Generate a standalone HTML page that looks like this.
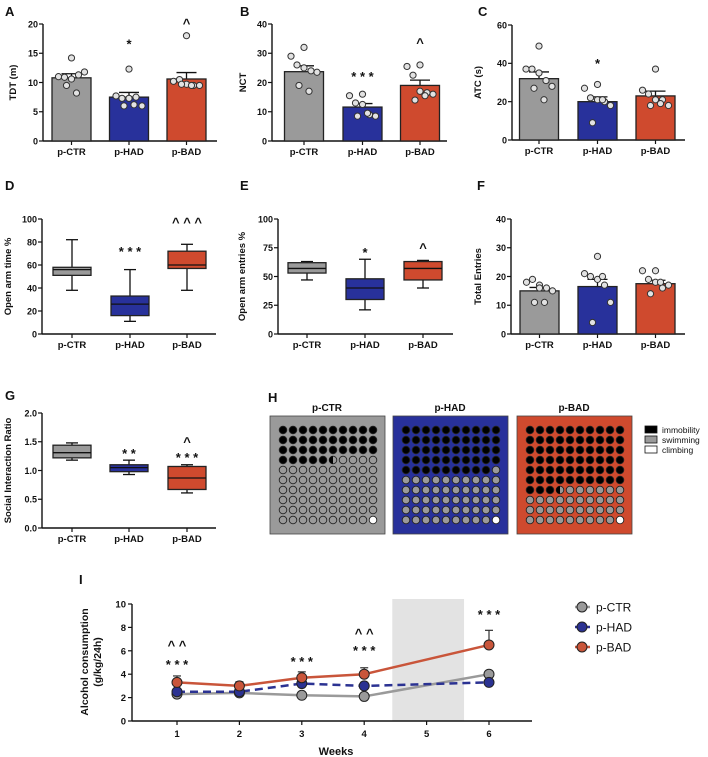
<!DOCTYPE html>
<html><head><meta charset="utf-8">
<style>
html,body{margin:0;padding:0;background:#fff;}
svg{display:block;font-family:"Liberation Sans",Arial,sans-serif;}
</style></head>
<body>
<svg id="fig" width="708" height="757" viewBox="0 0 708 757" xmlns="http://www.w3.org/2000/svg"></svg>
<script>
// ---------- DATA ----------
const groups = ["p-CTR","p-HAD","p-BAD"];
// Panel A: TDT (m)
const aMeans = [10.8, 7.5, 10.6];
const aSems = [0.7, 0.8, 1.1];
const aPts = [[14.2,11,10.9,10.6,11.3,11.8,9.5,8.2],[12.3,7.7,7.3,7.3,7.5,6,6,6.2],[18,10.2,10.5,9.7,9.5,9.5,9.7,9.5]];
const aTicks = [0,5,10,15,20];
// Panel B: NCT
const bMeans = [23.7, 11.6, 19];
const bSems = [2, 1.2, 1.8];
const bPts = [[32,29,26,25,24,23.5,19,17],[16,15.5,13,12.5,9,8.5,8.5,9.5],[26,25.5,22.5,17,16.5,16,14,15.5]];
const bTicks = [0,10,20,30,40];
// Panel C: ATC (s)
const cMeans = [32, 20, 23];
const cSems = [3.5, 2.5, 2.5];
const cPts = [[49,37,37,35,31,28,27,21],[29,27,22,21,20,18,9,21],[37,26,24,21,21,18,18,19]];
const cTicks = [0,20,40,60];
// Panel F: Total entries
const fMeans = [15, 16.5, 17.5];
const fSems = [1.2, 2.5, 1.2];
const fPts = [[17,18,19,16,16,15,11,11],[27,21,20,19,17,11,4,20],[22,22,19,18,16,17,14,18]];
const fTicks = [0,10,20,30,40];
// Box plots: [min, q1, median, q3, max]
const dBoxes = [[38,51,56,58,82],[11,16,26,33,56],[38,57,60,72,78]];
const dTicks = [0,20,40,60,80,100];
const eBoxes = [[47,53,57,62,63],[21,30,40,48,65],[40,47,57,63,64]];
const eTicks = [0,25,50,75,100];
const gBoxes = [[1.18,1.22,1.31,1.44,1.48],[0.93,0.98,1.05,1.10,1.18],[0.61,0.67,0.87,1.07,1.10]];
const gTicks = [0,0.5,1.0,1.5,2.0];
const gTickLabels = ["0.0","0.5","1.0","1.5","2.0"];
// Panel H: forced swim (% of 100)
const hImmobility = [35.5, 49.3, 63.5];
const hClimbing = [1, 1, 1];
// Panel I: alcohol consumption
const weeks = [1,2,3,4,5,6];
const iCTR = [2.3, 2.4, 2.2, 2.1, null, 4.0];
const iHAD = [2.5, 2.5, 3.2, 3.0, null, 3.3];
const iBAD = [3.3, 3.0, 3.7, 4.0, null, 6.5];
const iBADerr = [0.55, 0.35, 0.5, 0.55, null, 1.25];
const iCTRerr = [0.2, 0.2, 0.25, 0.25, null, 0.2];
const iHADerr = [0.25, 0.25, 0.3, 0.3, null, 0.2];
const iTicks = [0,2,4,6,8,10];

// ---------- HELPERS ----------
const NS = "http://www.w3.org/2000/svg";
const svg = document.getElementById("fig");
const COL = ["#9a9a9a","#28319b","#cf4a2e"];
function mk(tag, attrs, name, parent, txt){
  const el = document.createElementNS(NS, tag);
  for (const k in attrs) el.setAttribute(k, attrs[k]);
  
  
  if (txt !== undefined) el.textContent = txt;
  (parent || svg).appendChild(el);
  return el;
}
function letter(t, x, y){ mk("text",{x:x,y:y,"font-size":13,"font-weight":"bold",fill:"#111"},"panel-label-"+t.toLowerCase(),svg,t); }

function axes(g, P, ticks, labels, name){
  const y = v => P.y0 - (v - 0)/(P.max)*(P.y0 - P.yTop);
  mk("line",{x1:P.ax,y1:P.yTop,x2:P.ax,y2:P.y0,stroke:"#111","stroke-width":1.4},name+"-y-axis",g);
  mk("line",{x1:P.ax,y1:P.y0,x2:P.xEnd,y2:P.y0,stroke:"#111","stroke-width":1.4},name+"-x-axis",g);
  ticks.forEach((t,i)=>{
    mk("line",{x1:P.ax-4,y1:y(t),x2:P.ax,y2:y(t),stroke:"#111","stroke-width":1.2},name+"-y-tick",g);
    mk("text",{x:P.ax-5,y:y(t)+3.3,"font-size":9,"font-weight":"bold","text-anchor":"end",fill:"#111"},name+"-y-tick-label",g,labels?labels[i]:String(t));
  });
  P.cx.forEach((c,i)=>{
    mk("line",{x1:c,y1:P.y0,x2:c,y2:P.y0+4,stroke:"#111","stroke-width":1.2},name+"-x-tick",g);
    mk("text",{x:c,y:P.y0+14,"font-size":9.5,"font-weight":"bold","text-anchor":"middle",fill:"#111"},name+"-x-tick-label",g,groups[i]);
  });
  const my=(P.y0+P.yTop)/2;
  mk("text",{x:P.tx,y:my,"font-size":9.5,"font-weight":"bold","text-anchor":"middle",fill:"#111",transform:`rotate(-90 ${P.tx} ${my})`},name+"-y-axis-title",g,P.title);
  return y;
}
const jit = [0,-13,-7,0,7,13,-5,5];
function barPanel(name, P, means, sems, pts, ticks){
  const g = mk("g",{},name+"-chart");
  const y = axes(g,P,ticks,null,name);
  const bw = 39;
  means.forEach((m,i)=>{
    const c=P.cx[i];
    mk("line",{x1:c,y1:y(m),x2:c,y2:y(m+sems[i]),stroke:"#111","stroke-width":1.3},name+"-error-bar",g);
    mk("line",{x1:c-10,y1:y(m+sems[i]),x2:c+10,y2:y(m+sems[i]),stroke:"#111","stroke-width":1.3},name+"-error-cap",g);
    mk("rect",{x:c-bw/2,y:y(m),width:bw,height:P.y0-y(m),fill:COL[i],stroke:"#222","stroke-width":1.3},name+"-bar-"+groups[i].toLowerCase(),g);
    pts[i].forEach((v,j)=>{
      mk("circle",{cx:c+jit[j],cy:y(v),r:3.1,fill:"#e2e2e2",stroke:"#333","stroke-width":1},name+"-data-point",g);
    });
  });
  P.stars.forEach(s=>mk("text",{x:P.cx[s.i],y:y(s.v),"font-size":13,"font-weight":"bold","text-anchor":"middle",fill:"#111"},name+"-significance",g,s.t));
}
function boxPanel(name, P, boxes, ticks, labels){
  const g = mk("g",{},name+"-chart");
  const y = axes(g,P,ticks,labels,name);
  const bw = 38;
  boxes.forEach((b,i)=>{
    const c=P.cx[i];
    mk("line",{x1:c,y1:y(b[0]),x2:c,y2:y(b[4]),stroke:"#111","stroke-width":1.3},name+"-whisker",g);
    mk("line",{x1:c-6,y1:y(b[0]),x2:c+6,y2:y(b[0]),stroke:"#111","stroke-width":1.3},name+"-whisker-cap-low",g);
    mk("line",{x1:c-6,y1:y(b[4]),x2:c+6,y2:y(b[4]),stroke:"#111","stroke-width":1.3},name+"-whisker-cap-high",g);
    mk("rect",{x:c-bw/2,y:y(b[3]),width:bw,height:y(b[1])-y(b[3]),fill:COL[i],stroke:"#222","stroke-width":1.3},name+"-box-"+groups[i].toLowerCase(),g);
    mk("line",{x1:c-bw/2,y1:y(b[2]),x2:c+bw/2,y2:y(b[2]),stroke:"#111","stroke-width":1.3},name+"-median",g);
  });
  P.stars.forEach(s=>mk("text",{x:P.cx[s.i],y:y(s.v),"font-size":13,"font-weight":"bold","text-anchor":"middle",fill:"#111"},name+"-significance",g,s.t));
}

// ---------- ROW 1 ----------
letter("A",5,16); letter("B",240,16); letter("C",478,16);
barPanel("panel-a",{ax:43,yTop:24,y0:141,xEnd:217,max:20,cx:[71.5,129,186.5],tx:16,title:"TDT (m)",
  stars:[{i:1,v:15.8,t:"*"},{i:2,v:19.3,t:"^"}]}, aMeans,aSems,aPts,aTicks);
barPanel("panel-b",{ax:272,yTop:24,y0:141,xEnd:447,max:40,cx:[304,362.5,420],tx:246,title:"NCT",
  stars:[{i:1,v:20.5,t:"* * *"},{i:2,v:32,t:"^"}]}, bMeans,bSems,bPts,bTicks);
barPanel("panel-c",{ax:512,yTop:25,y0:140,xEnd:685,max:60,cx:[539,597.5,655.5],tx:481,title:"ATC (s)",
  stars:[{i:1,v:37.5,t:"*"}]}, cMeans,cSems,cPts,cTicks);

// ---------- ROW 2 ----------
letter("D",5,190); letter("E",240,190); letter("F",477,190);
boxPanel("panel-d",{ax:42,yTop:219,y0:334,xEnd:216,max:100,cx:[72,130,187],tx:11,title:"Open arm time %",
  stars:[{i:1,v:68,t:"* * *"},{i:2,v:93,t:"^ ^ ^"}]}, dBoxes,dTicks);
boxPanel("panel-e",{ax:278,yTop:219,y0:334,xEnd:453,max:100,cx:[307,365,423],tx:245,title:"Open arm entries %",
  stars:[{i:1,v:67,t:"*"},{i:2,v:71,t:"^"}]}, eBoxes,eTicks);
barPanel("panel-f",{ax:511,yTop:219,y0:334,xEnd:685,max:40,cx:[539.5,597.5,655.5],tx:481,title:"Total Entries",
  stars:[]}, fMeans,fSems,fPts,fTicks);

// ---------- ROW 3 ----------
letter("G",5,400);
boxPanel("panel-g",{ax:42,yTop:413,y0:528,xEnd:216,max:2,cx:[72,129,187],tx:11,title:"Social Interaction Ratio",
  stars:[{i:1,v:1.22,t:"* *"},{i:2,v:1.15,t:"* * *"},{i:2,v:1.42,t:"^"}]}, gBoxes,gTicks,gTickLabels);

// Panel H
letter("H",268,402);
(function(){
  const g = mk("g",{},"panel-h-chart");
  const boxX = [270,393,517];
  hImmobility.forEach((imm,k)=>{
    const bx=boxX[k], by=416;
    mk("text",{x:bx+57,y:411,"font-size":10,"font-weight":"bold","text-anchor":"middle",fill:"#111"},"panel-h-title-"+groups[k].toLowerCase(),g,groups[k]);
    mk("rect",{x:bx,y:by,width:115,height:118,fill:COL[k],stroke:"#444","stroke-width":0.8},"panel-h-box-"+groups[k].toLowerCase(),g);
    const full=Math.floor(imm), frac=imm-full;
    for(let n=0;n<100;n++){
      const r=Math.floor(n/10), c=n%10;
      const cx=bx+13+c*10, cy=by+14+r*10;
      let fill="#9a9a9a";
      if(n<full) fill="#000";
      if(n>=100-hClimbing[k]) fill="#fff";
      mk("circle",{cx:cx,cy:cy,r:3.8,fill:fill,stroke:"#222","stroke-width":0.9},"panel-h-dot",g);
      if(n===full && frac>=0.4){
        mk("path",{d:`M${cx},${cy-3.8} A3.8,3.8 0 0 0 ${cx},${cy+3.8} Z`,fill:"#000"},"panel-h-dot-fraction",g);
      }
    }
  });
  const leg=[["#000","immobility"],["#9a9a9a","swimming"],["#fff","climbing"]];
  leg.forEach((l,i)=>{
    mk("rect",{x:645,y:426+i*10,width:12,height:7,fill:l[0],stroke:"#111","stroke-width":0.8},"panel-h-legend-swatch",g);
    mk("text",{x:662,y:433+i*10,"font-size":8.5,fill:"#111"},"panel-h-legend-label",g,l[1]);
  });
})();

// ---------- PANEL I ----------
letter("I",79,584);
(function(){
  const g = mk("g",{},"panel-i-chart");
  const y = v => 721 - v*11.7;
  const x = w => 177 + (w-1)*62.4;
  mk("rect",{x:x(4.45),y:599,width:x(5.6)-x(4.45),height:721-599,fill:"#e3e3e3"},"shaded-withdrawal-period",g);
  mk("line",{x1:132,y1:y(10),x2:132,y2:721,stroke:"#111","stroke-width":1.4},"panel-i-y-axis",g);
  mk("line",{x1:132,y1:721,x2:532,y2:721,stroke:"#111","stroke-width":1.4},"panel-i-x-axis",g);
  iTicks.forEach(t=>{
    mk("line",{x1:128,y1:y(t),x2:132,y2:y(t),stroke:"#111","stroke-width":1.2},"panel-i-y-tick",g);
    mk("text",{x:126,y:y(t)+3.5,"font-size":9.5,"font-weight":"bold","text-anchor":"end",fill:"#111"},"panel-i-y-tick-label",g,String(t));
  });
  weeks.forEach(w=>{
    mk("line",{x1:x(w),y1:721,x2:x(w),y2:725,stroke:"#111","stroke-width":1.2},"panel-i-x-tick",g);
    mk("text",{x:x(w),y:737,"font-size":9.5,"font-weight":"bold","text-anchor":"middle",fill:"#111"},"panel-i-x-tick-label",g,String(w));
  });
  mk("text",{x:x(3.5)+3,y:755,"font-size":11,"font-weight":"bold","text-anchor":"middle",fill:"#111"},"panel-i-x-axis-title",g,"Weeks");
  const t1=mk("text",{"font-size":10.5,"font-weight":"bold","text-anchor":"middle",fill:"#111",transform:"rotate(-90 88 662)"},"panel-i-y-axis-title",g);
  mk("tspan",{x:88,y:662},"y-axis-title-line-1",t1,"Alcohol consumption");
  mk("tspan",{x:88,y:675},"y-axis-title-line-2",t1,"(g/kg/24h)");
  const series=[[iCTR,iCTRerr,"#9a9a9a",null,"#9a9a9a","p-ctr"],[iHAD,iHADerr,"#2b3292","8,5","#2b3292","p-had"],[iBAD,iBADerr,"#c9553a",null,"#c9553a","p-bad"]];
  series.forEach(s=>{
    const pts=[]; s[0].forEach((v,i)=>{ if(v!==null) pts.push(x(weeks[i])+","+y(v)); });
    const a={points:pts.join(" "),fill:"none",stroke:s[2],"stroke-width":2.5};
    if(s[3]) a["stroke-dasharray"]=s[3];
    mk("polyline",a,"line-"+s[5],g);
  });
  series.forEach(s=>{
    s[0].forEach((v,i)=>{
      if(v===null) return;
      const cx=x(weeks[i]), e=s[1][i];
      mk("line",{x1:cx,y1:y(v),x2:cx,y2:y(v+e),stroke:"#333","stroke-width":1.2},"error-bar-"+s[5],g);
      mk("line",{x1:cx-4,y1:y(v+e),x2:cx+4,y2:y(v+e),stroke:"#333","stroke-width":1.2},"error-cap-"+s[5],g);
      mk("circle",{cx:cx,cy:y(v),r:5,fill:s[4],stroke:"#222","stroke-width":1},"point-"+s[5],g);
    });
  });
  const ann=[[1,645,"^ ^"],[1,664,"* * *"],[3,661,"* * *"],[4,633,"^ ^"],[4,650,"* * *"],[6,614,"* * *"]];
  ann.forEach(a=>mk("text",{x:x(a[0]),y:a[1]+5,"font-size":13,"font-weight":"bold","text-anchor":"middle",fill:"#111"},"panel-i-significance",g,a[2]));
  const legN=["p-CTR","p-HAD","p-BAD"], legC=["#9a9a9a","#2b3292","#c9553a"];
  legN.forEach((n,i)=>{
    const ly=607+i*20;
    mk("line",{x1:575,y1:ly,x2:590,y2:ly,stroke:legC[i],"stroke-width":2.5,"stroke-dasharray":i===1?"4,2":"none"},"legend-line-"+n.toLowerCase(),g);
    mk("circle",{cx:582,cy:ly,r:5,fill:legC[i],stroke:"#222","stroke-width":1},"legend-marker-"+n.toLowerCase(),g);
    mk("text",{x:596,y:ly+4.5,"font-size":12,fill:"#111"},"legend-entry-"+n.toLowerCase(),g,n);
  });
})();
</script>
</body></html>
